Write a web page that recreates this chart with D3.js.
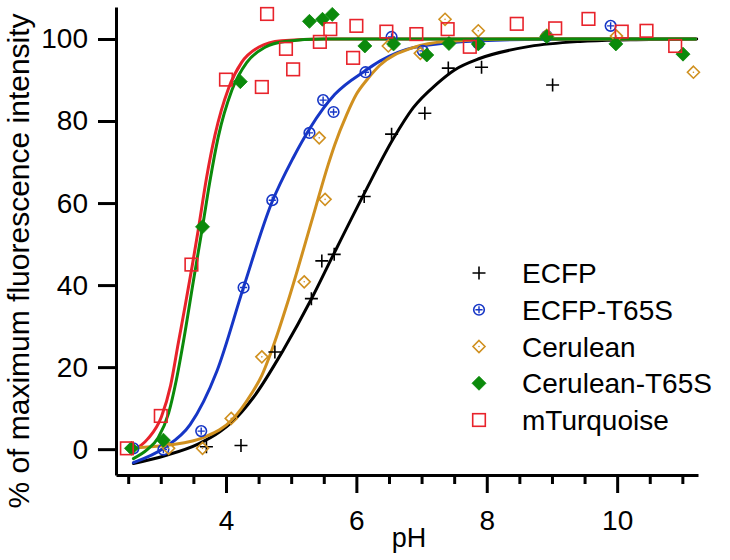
<!DOCTYPE html>
<html>
<head>
<meta charset="utf-8">
<script src="https://cdn.jsdelivr.net/npm/d3@7"></script>
<style>
  html, body { margin: 0; padding: 0; background: #fff; }
  svg { display: block; font-family: "Liberation Sans", Arial, sans-serif; }
</style>
</head>
<body>
<svg id="chart" width="730" height="560"></svg>
<script>
// ---------------- DATA ----------------
const seriesNames = ["ECFP", "ECFP-T65S", "Cerulean", "Cerulean-T65S", "mTurquoise"];

// measured points
const ecfpPH  = [3.70, 4.23, 4.75, 5.31, 5.47, 5.66, 6.12, 6.54, 7.05, 7.41, 7.92, 9.01];
const ecfpVal = [0.6, 0.9, 23.7, 36.7, 45.9, 47.5, 61.6, 76.8, 81.9, 92.9, 93.1, 88.8];

const ecfpT65SPH  = [2.58, 3.04, 3.62, 4.27, 4.71, 5.28, 5.49, 5.65, 6.14, 6.54, 7.02, 7.87, 8.92, 9.90];
const ecfpT65SVal = [0.2, -0.1, 4.4, 39.4, 60.7, 77.1, 85.1, 82.2, 91.9, 100.5, 97.1, 98.9, 100.7, 103.2];

const ceruleanPH  = [3.12, 3.64, 4.08, 4.55, 5.20, 5.52, 5.43, 6.49, 6.98, 7.36, 7.87, 8.92, 9.99, 11.17];
const ceruleanVal = [0.2, 0.2, 7.5, 22.5, 40.8, 60.9, 75.9, 98.3, 96.5, 104.8, 102.0, 100.9, 100.7, 91.9];

const ceruleanT65SPH  = [2.55, 3.04, 3.64, 4.22, 5.28, 5.48, 5.63, 6.13, 6.57, 7.08, 7.42, 7.87, 8.92, 9.98, 11.01];
const ceruleanT65SVal = [0.2, 2.2, 54.2, 89.6, 104.3, 104.8, 106.0, 98.3, 98.8, 96.1, 98.9, 98.8, 100.6, 98.8, 96.3];

const mTurqPH  = [2.48, 3.00, 3.47, 4.00, 4.55, 4.63, 4.92, 5.03, 5.44, 5.60, 5.95, 6.00, 6.46, 6.92, 7.40, 7.74, 8.46, 9.05, 9.56, 10.07, 10.45, 10.89];
const mTurqVal = [0.2, 8.1, 45.0, 90.1, 88.3, 106.1, 97.6, 92.6, 99.3, 102.4, 95.4, 103.2, 101.8, 101.2, 102.4, 98.1, 103.7, 102.6, 104.9, 101.8, 102.0, 98.3];

// fitted curves
const ecfpFitPH  = [2.58, 3.06, 3.58, 3.91, 4.09, 4.42, 4.88, 5.31, 5.65, 6.11, 6.57, 6.87, 7.23, 7.50, 7.90, 8.66, 9.43, 10.2, 11.22];
const ecfpFitVal = [-3.5, -1.6, 1.3, 4.3, 6.6, 12.6, 24.2, 36.6, 47.5, 62.0, 75.8, 83.2, 89.0, 92.4, 95.3, 98.2, 99.4, 99.8, 100];

const ecfpT65SFitPH  = [2.58, 3.06, 3.45, 3.86, 4.27, 4.70, 5.03, 5.29, 5.49, 5.67, 6.14, 6.36, 6.87, 7.90, 9.43, 11.2];
const ecfpT65SFitVal = [-3.3, 0.4, 6.0, 19.0, 39.5, 60.0, 71.0, 78.3, 83.0, 86.5, 92.3, 94.6, 97.9, 99.6, 100, 100];

const ceruleanFitPH  = [2.58, 3.12, 3.68, 4.09, 4.39, 4.55, 4.70, 4.96, 5.34, 5.57, 5.67, 5.85, 6.00, 6.16, 6.36, 6.87, 7.38, 8.5, 11.2];
const ceruleanFitVal = [0.3, 1.0, 3.0, 7.1, 13.5, 18.0, 24.0, 36.5, 57.0, 69.5, 74.3, 81.5, 86.5, 90.0, 93.6, 97.9, 99.4, 100, 100];

const ceruleanT65SFitPH  = [2.58, 2.80, 2.96, 3.12, 3.24, 3.35, 3.50, 3.64, 3.75, 3.88, 4.09, 4.32, 4.60, 4.90, 5.5, 11.2];
const ceruleanT65SFitVal = [-2.3, 0.0, 2.8, 8.8, 17.0, 26.5, 41.0, 54.2, 65.0, 76.0, 87.5, 94.3, 98.0, 99.4, 100, 100];

const mTurqFitPH  = [2.58, 2.80, 3.01, 3.15, 3.27, 3.38, 3.48, 3.58, 3.70, 3.83, 4.04, 4.24, 4.50, 4.85, 5.5, 11.2];
const mTurqFitVal = [-0.3, 2.5, 7.9, 15.5, 26.0, 35.5, 44.5, 54.0, 66.0, 76.5, 88.0, 94.3, 98.0, 99.6, 100, 100];

const yTicks = [0, 20, 40, 60, 80, 100];
const xMajorTicks = [4, 6, 8, 10];
const xMinorTicks = [2.5, 3, 3.5, 4.5, 5, 5.5, 6.5, 7, 7.5, 8.5, 9, 9.5, 10.5, 11];

const xTitle = "pH";
const yTitle = "% of maximum fluorescence intensity";

// ---------------- STYLE ----------------
const styles = {
  "ECFP":          { color: "#000000", symbol: "plus" },
  "ECFP-T65S":     { color: "#1636c6", symbol: "circleplus" },
  "Cerulean":      { color: "#d0901f", symbol: "diamondOpen" },
  "Cerulean-T65S": { color: "#0b8a0b", symbol: "diamondFilled" },
  "mTurquoise":    { color: "#e8232b", symbol: "square" }
};

const series = [
  { name: "ECFP",          ph: ecfpPH,         val: ecfpVal,         fph: ecfpFitPH,         fval: ecfpFitVal },
  { name: "ECFP-T65S",     ph: ecfpT65SPH,     val: ecfpT65SVal,     fph: ecfpT65SFitPH,     fval: ecfpT65SFitVal },
  { name: "Cerulean",      ph: ceruleanPH,     val: ceruleanVal,     fph: ceruleanFitPH,     fval: ceruleanFitVal },
  { name: "Cerulean-T65S", ph: ceruleanT65SPH, val: ceruleanT65SVal, fph: ceruleanT65SFitPH, fval: ceruleanT65SFitVal },
  { name: "mTurquoise",    ph: mTurqPH,        val: mTurqVal,        fph: mTurqFitPH,        fval: mTurqFitVal }
];

// ---------------- LAYOUT ----------------
const svg = d3.select("#chart");
const margin = { left: 116, top: 7 };
const W = 582, H = 468;

const x = d3.scaleLinear().domain([2.313, 11.24]).range([0, W]);
const y = d3.scaleLinear().domain([-6.3, 107.8]).range([H, 0]);

const g = svg.append("g").attr("transform", `translate(${margin.left},${margin.top})`);

// axes
const yAxis = d3.axisLeft(y).tickValues(yTicks).tickSize(18).tickPadding(10).tickSizeOuter(0);
const yg = g.append("g").call(yAxis);
yg.select(".domain").attr("stroke", "#000").attr("stroke-width", 3);
yg.selectAll(".tick line").attr("stroke", "#000").attr("stroke-width", 3);
yg.selectAll(".tick text").attr("font-size", 28).attr("fill", "#000")
  .attr("font-family", "'Liberation Sans', Arial, sans-serif");

const xMinor = d3.axisBottom(x).tickValues(xMinorTicks).tickSize(9).tickFormat("").tickSizeOuter(0);
const xmg = g.append("g").attr("transform", `translate(0,${H})`).call(xMinor);
xmg.select(".domain").remove();
xmg.selectAll(".tick line").attr("stroke", "#000").attr("stroke-width", 3);

const xAxis = d3.axisBottom(x).tickValues(xMajorTicks).tickSize(18).tickPadding(17).tickSizeOuter(0);
const xg = g.append("g").attr("transform", `translate(0,${H})`).call(xAxis);
xg.select(".domain").attr("stroke", "#000").attr("stroke-width", 3);
xg.selectAll(".tick line").attr("stroke", "#000").attr("stroke-width", 3);
xg.selectAll(".tick text").attr("font-size", 28).attr("fill", "#000")
  .attr("font-family", "'Liberation Sans', Arial, sans-serif");

// axis titles
svg.append("text").attr("x", 409).attr("y", 547).attr("text-anchor", "middle")
  .attr("font-size", 27).attr("fill", "#000").text(xTitle);
svg.append("text").attr("transform", "translate(29,261) rotate(-90)").attr("text-anchor", "middle")
  .attr("font-size", 30).attr("fill", "#000").text(yTitle);

// fit curves
const line = d3.line().x(d => x(d[0])).y(d => y(d[1])).curve(d3.curveMonotoneX);
const curveOrder = ["ECFP", "mTurquoise", "ECFP-T65S", "Cerulean", "Cerulean-T65S"];
curveOrder.forEach(nm => {
  const s = series.find(d => d.name === nm);
  const pts = s.fph.map((p, i) => [p, s.fval[i]]);
  g.append("path").attr("d", line(pts)).attr("fill", "none")
    .attr("stroke", styles[nm].color).attr("stroke-width", 3)
    .attr("stroke-linejoin", "round").attr("stroke-linecap", "round");
});

// marker drawing
function drawMarker(sel, kind, color, cx, cy) {
  const m = sel.append("g").attr("transform", `translate(${cx},${cy})`);
  if (kind === "plus") {
    m.append("path").attr("d", "M-6.5,0H6.5M0,-6.5V6.5").attr("stroke", color).attr("stroke-width", 1.6).attr("fill", "none");
  } else if (kind === "circleplus") {
    m.append("circle").attr("r", 5.3).attr("fill", "none").attr("stroke", color).attr("stroke-width", 1.6);
    m.append("path").attr("d", "M-3.6,0H3.6M0,-3.6V3.6").attr("stroke", color).attr("stroke-width", 1.4);
  } else if (kind === "diamondOpen") {
    m.append("path").attr("d", "M0,-6L6,0L0,6L-6,0Z").attr("fill", "none").attr("stroke", color).attr("stroke-width", 1.6);
    m.append("circle").attr("r", 0.8).attr("fill", color);
  } else if (kind === "diamondFilled") {
    m.append("path").attr("d", "M0,-7L7,0L0,7L-7,0Z").attr("fill", color).attr("stroke", color).attr("stroke-width", 0.8);
  } else if (kind === "square") {
    m.append("rect").attr("x", -6.3).attr("y", -6.3).attr("width", 12.6).attr("height", 12.6)
      .attr("fill", "none").attr("stroke", color).attr("stroke-width", 1.6);
  }
}

// data markers
series.forEach(s => {
  const st = styles[s.name];
  const mg = g.append("g");
  s.ph.forEach((p, i) => drawMarker(mg, st.symbol, st.color, x(p), y(s.val[i])));
});

// legend
const legend = svg.append("g");
const legY0 = 273, legDy = 36.75;
seriesNames.forEach((nm, i) => {
  const st = styles[nm];
  const yy = legY0 + i * legDy;
  drawMarker(legend, st.symbol, st.color, 479, yy);
  legend.append("text").attr("x", 522).attr("y", yy + 10).attr("font-size", 28).attr("fill", "#000").text(nm);
});
</script>
</body>
</html>
